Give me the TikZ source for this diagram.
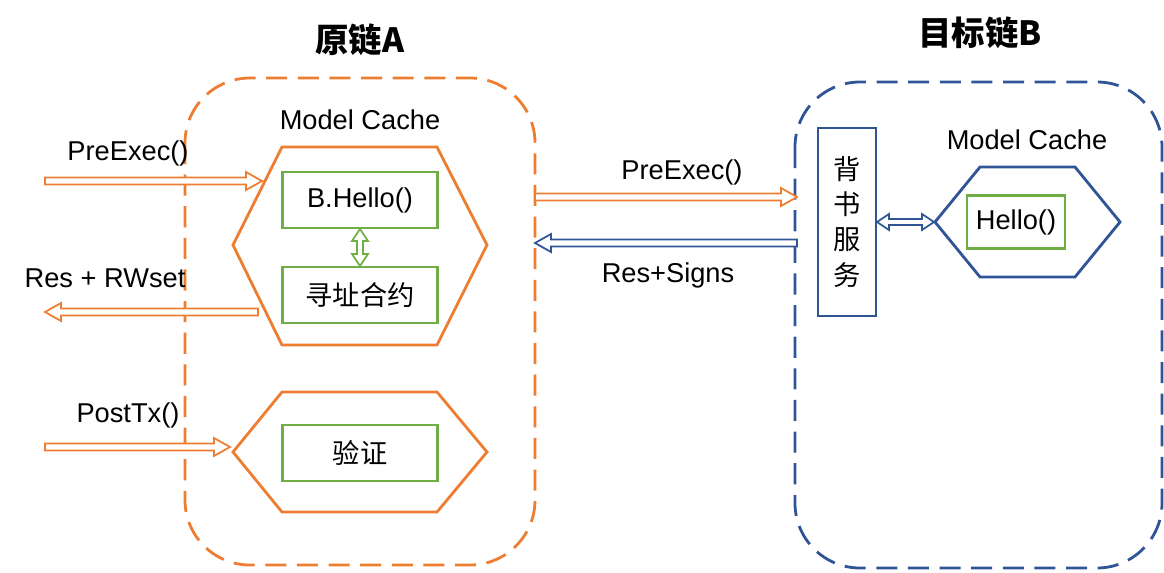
\documentclass[tikz,border=0pt]{standalone}
\usepackage{fontspec}
\setmainfont{Liberation Sans}
\newfontfamily\cjk{Noto Sans CJK SC}
\definecolor{org}{HTML}{ED7D31}
\definecolor{blu}{HTML}{2F5597}
\definecolor{grn}{HTML}{70AD47}
% horizontal block arrow: color, x start, x end, y
\newcommand\hbarr[4]{\pgfmathsetmacro\dd{((#3)>(#2))?1:-1}
  \draw[#1,line width=1pt,fill=white] (#2,#4-3.5) -- ({#3-16*\dd},#4-3.5) -- ({#3-16*\dd},#4-9) -- (#3,#4) -- ({#3-16*\dd},#4+9) -- ({#3-16*\dd},#4+3.5) -- (#2,#4+3.5) -- cycle;}
% double-headed block arrow horizontal
\newcommand\hdarr[4]{\draw[#1,line width=1pt,fill=white] (#2,#4) -- (#2+12,#4-8) -- (#2+12,#4-3) -- (#3-12,#4-3) -- (#3-12,#4-8) -- (#3,#4) -- (#3-12,#4+8) -- (#3-12,#4+3) -- (#2+12,#4+3) -- (#2+12,#4+8) -- cycle;}
\newcommand\vdarr[4]{\draw[#1,line width=1pt,fill=white] (#4,#2) -- (#4-8,#2+12) -- (#4-3,#2+12) -- (#4-3,#3-12) -- (#4-8,#3-12) -- (#4,#3) -- (#4+8,#3-12) -- (#4+3,#3-12) -- (#4+3,#2+12) -- (#4+8,#2+12) -- cycle;}
\begin{document}
\begin{tikzpicture}[x=0.02cm,y=-0.02cm,
  lbl/.style={font=\fontsize{15.5}{18}\selectfont},
  gbox/.style={draw=grn,line width=1.6pt,minimum width=3.1cm,minimum height=1.12cm,font=\fontsize{15.5}{18}\selectfont},
  frame/.style={draw=#1,dashed,dash pattern=on 12pt off 6pt,line width=1.6pt,rounded corners=1.3cm}]
\useasboundingbox (0,0) rectangle (1164,572);
\node[font=\fontsize{19}{22}\selectfont\bfseries\cjk] (tA) at (360,40) {原链A};
\node[font=\fontsize{19}{22}\selectfont\bfseries\cjk] (tB) at (980,33) {目标链B};
\draw[frame=org] (185,78) rectangle (535,565);
\draw[frame=blu] (795,82) rectangle (1162,568);
\node[lbl] (mc1) at (360,120) {Model Cache};
\node[lbl] (mc2) at (1027,140) {Model Cache};
\draw[org,line width=1.6pt] (233,245) -- (282,147) -- (437,147) -- (487,245) -- (437,345) -- (282,345) -- cycle;
\node[gbox] (bh) at (360,200) {B.Hello()};
\node[gbox] (xz) at (360,295) {\cjk 寻址合约};
\vdarr{grn}{229}{266}{360}
\draw[org,line width=1.6pt] (233,452) -- (282,392) -- (437,392) -- (487,452) -- (437,512) -- (282,512) -- cycle;
\node[gbox] (yz) at (360,453) {\cjk 验证};
\hbarr{org}{45}{262}{181}
\node[lbl] at (128,153) {PreExec()};
\hbarr{org}{258}{45}{312}
\node[lbl] at (105,278) {Res + RWset};
\hbarr{org}{45}{230}{447}
\node[lbl] at (128,415) {PostTx()};
\node[draw=blu,line width=1.6pt,minimum width=1.16cm,minimum height=3.76cm,inner sep=0pt,align=center,font=\fontsize{15.5}{20}\selectfont\cjk] (bs) at (847,222) {背\\书\\服\\务};
\draw[blu,line width=1.6pt] (935,222) -- (980,167) -- (1075,167) -- (1120,222) -- (1075,277) -- (980,277) -- cycle;
\node[gbox,minimum width=1.96cm,minimum height=1.06cm] (hl) at (1016,222) {Hello()};
\hdarr{blu}{877}{934}{222}
\hbarr{org}{535}{797}{197}
\node[lbl] at (682,172) {PreExec()};
\hbarr{blu}{797}{535}{243}
\node[lbl] at (668,275) {Res+Signs};
\end{tikzpicture}
\end{document}
